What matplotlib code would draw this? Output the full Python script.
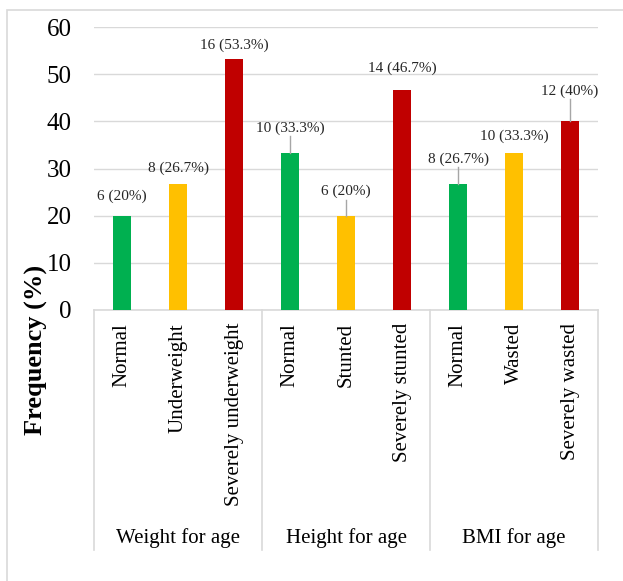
import matplotlib
matplotlib.use("Agg")
import matplotlib.pyplot as plt
import matplotlib.transforms as mtransforms
from matplotlib.patches import Rectangle
import numpy as np

plt.rcParams['font.family'] = ['Liberation Serif', 'DejaVu Serif']

# nutrition status counts (n = 30 per indicator) and their percentages
groups = ["Weight for age", "Height for age", "BMI for age"]
categories = ["Normal", "Underweight", "Severely underweight",
              "Normal", "Stunted", "Severely stunted",
              "Normal", "Wasted", "Severely wasted"]
counts = [6, 8, 16, 10, 6, 14, 8, 10, 12]
percents = [20, 26.7, 53.3, 33.3, 20, 46.7, 26.7, 33.3, 40]
yticks = [0, 10, 20, 30, 40, 50, 60]

colors = ["#00B050", "#FFC000", "#C00000"] * 3
# label distance above bar top (pixels) and whether a leader line is drawn
label_off = [19, 16, 13, 25, 24, 21, 25, 17, 30]
leader = [False, False, False, True, True, False, True, False, True]

W, H = 623, 581
fig = plt.figure(figsize=(W / 100, H / 100), dpi=100)

# outer chart frame (runs off the right and bottom edges)
fig.patches.append(Rectangle((7 / W, -0.05), 1.1, 1 - 10 / H + 0.05,
                             transform=fig.transFigure, fill=False,
                             edgecolor="#d9d9d9", lw=1.2))

ax = fig.add_axes([94 / W, 1 - 310 / H, 504 / W, 283 / H])
x = np.arange(len(categories))
ax.bar(x, percents, width=0.32, color=colors, zorder=3)

ax.set_xlim(-0.5, len(categories) - 0.5)
ax.set_ylim(0, 60)
ax.set_yticks(yticks)
ax.set_yticklabels([str(t) for t in yticks], fontsize=18)
ax.tick_params(axis='y', length=0, pad=16)
ax.set_xticks([])
ax.yaxis.grid(True, color="#d9d9d9", lw=1.0, zorder=0)
for s in ["left", "right", "top"]:
    ax.spines[s].set_visible(False)
ax.spines["bottom"].set_color("#d9d9d9")
ax.spines["bottom"].set_linewidth(1.2)

px = 283 / 60  # pixels per unit on the value axis

# data labels
for i, (n, p) in enumerate(zip(counts, percents)):
    label = f"{n} ({p:g}%)"
    top_px = p * px
    cy = (top_px + label_off[i]) / px
    ax.text(x[i], cy, label, ha="center", va="center", fontsize=11,
            color="#262626", zorder=4)
    if leader[i]:
        ax.plot([x[i], x[i]], [p, (top_px + label_off[i] - 8) / px],
                color="#a6a6a6", lw=1.0, zorder=4)

# multi-level category axis
trans = mtransforms.blended_transform_factory(ax.transData, ax.transAxes)
for i, c in enumerate(categories):
    ax.text(x[i], -13 / 283, c, transform=trans, rotation=90,
            ha="center", va="top", fontsize=15, color="black")
for g, name in enumerate(groups):
    ax.text(3 * g + 1, -228 / 283, name, transform=trans,
            ha="center", va="center", fontsize=15, color="black")
for b in [-0.5, 2.5, 5.5, 8.5]:
    ax.plot([b, b], [0, -240 / 283], transform=trans, color="#d9d9d9",
            lw=1.2, clip_on=False)

fig.text(36 / W, 1 - 350 / H, "Frequency (%)", rotation=90, ha="center",
         va="center", fontsize=19, fontweight="bold")

fig.savefig("out.png", dpi=100)
